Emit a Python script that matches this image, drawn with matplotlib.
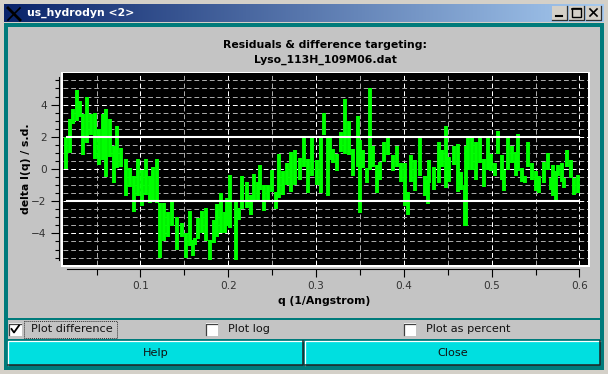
"""Recreate the us_hydrodyn residuals window as a 608x374 PNG."""

import matplotlib

matplotlib.use("Agg")
import matplotlib.patches as mpatches
import matplotlib.pyplot as plt
import numpy as np

# residual trace, one column of the dense trace per entry (top and bottom of each swing)
q_vals = [
    .0153, .0198, .0236, .0274, .0312, .0350, .0396, .0441, .0479, .0525, .0570, .0608,
    .0654, .0700, .0738, .0783, .0837, .0882, .0928, .0973, .1019, .1065, .1110, .1148,
    .1194, .1224, .1270, .1315, .1361, .1422, .1475, .1520, .1566, .1604,
    .1622, .1660, .1706, .1751, .1797, .1835, .1873, .1918, .1964, .1987, .2025, .2086,
    .2124, .2162, .2215, .2260, .2291, .2336, .2367, .2412, .2458, .2504, .2549, .2583,
    .2629, .2675, .2716, .2762, .2815, .2861, .2906, .2952, .3013, .3058, .3096, .3134,
    .3160, .3198, .3236, .3282, .3335, .3380, .3426, .3479, .3502, .3540, .3586, .3620,
    .3654, .3692, .3730, .3776, .3825, .3882, .3920, .3966, .4019, .4045, .4080, .4125,
    .4186, .4243, .4270, .4292, .4346, .4399, .4437, .4475, .4520, .4566, .4612, .4657,
    .4695,
    .4705, .4735, .4773, .4819, .4864, .4910, .4955, .4993, .5039, .5077, .5123, .5145,
    .5191, .5237, .5275, .5305, .5343, .5381, .5419, .5457, .5503, .5541, .5594, .5639,
    .5677, .5704, .5731, .5761, .5799, .5822, .5860, .5905, .5943, .5989,
]
delta_hi = [
    2.0, 3.1, 3.7, 4.9, 4.25, 3.4, 4.5, 3.4, 3.5, 2.5, 3.4, 3.7,
    3.1, 1.4, 2.65, 1.3, 0.65, 0.05, -0.45, 0.6, -0.05, 0.6, -0.45, 0.15,
    0.6, -2.1, -2.1, -2.7, -2.0, -2.95, -3.35, -4.0, -2.6, -4.4,
    -4.3, -3.05, -2.6, -2.4, -4.4, -3.15, -2.2, -1.5, -2.7, -1.8, -0.35, -2.0,
    -2.4, -0.45, -0.8, -1.6, -0.3, -0.8, 0.25, -1.0, -1.0, -0.05, -1.4, 0.95,
    -0.15, 0.35, 1.05, 1.15, 0.7, 1.9, 0.65, 2.0, 0.55, 2.0, 3.45, 2.0,
    2.0, 1.25, 0.95, 2.3, 4.35, 3.0, 1.25, 3.3, 1.8, 1.15, 0.05, 5.0,
    1.45, 0.25, 0.45, 1.7, 2.0, 0.85, 1.45, 0.35, 0.35, -1.4, 0.9, 0.55,
    2.0, -0.45, -0.7, 0.55, 0.15, 1.7, 1.15, 2.7, 0.75, 1.45, 1.55, -0.2,
    -1.0,
    1.45, 1.9, 2.0, 1.7, 1.9, 0.65, 1.9, 0.95, 0.35, 2.35, 0.85, -0.05,
    1.95, 1.45, 1.05, 2.15, 0.05, -0.45, 1.7, 0.35, -0.15, -0.45, 0.45, 1.0,
    -0.55, 0.25, -0.15, 0.25, 0.35, -0.55, 1.15, 0.55, -0.55, -0.35,
]
delta_lo = [
    0.0, 1.0, 2.8, 3.0, 3.2, 0.85, 1.6, 2.1, 0.65, 0.25, 0.55, -0.5,
    0.75, -0.85, 0.05, 0.1, -1.7, -1.1, -2.7, -1.7, -2.3, -1.6, -2.1, -1.9,
    -2.1, -5.55, -4.5, -4.2, -3.55, -5.0, -4.25, -5.5, -4.8, -5.4,
    -4.7, -4.35, -3.95, -4.5, -5.65, -4.6, -4.25, -3.95, -3.95, -3.55, -3.65, -5.65,
    -3.15, -2.5, -2.4, -2.85, -1.9, -1.9, -1.3, -2.6, -1.9, -1.45, -2.5, -1.8,
    -1.6, -1.0, -1.4, -1.0, -0.7, 0.15, -1.5, -0.45, -1.0, -1.5, 2.1, -1.65,
    0.55, 0.35, -0.15, 1.05, 0.95, 0.85, -0.45, 0.15, -2.75, 0.05, -0.9, -0.05,
    0.15, -1.5, -0.7, 0.45, 0.85, -0.15, 0.15, -0.8, -2.3, -2.85, -0.8, -1.35,
    -0.45, -1.7, -2.2, -0.9, -1.3, -0.9, 0.15, -1.2, -0.8, 0.25, -1.4, -1.3,
    -3.55,
    -3.55, -0.05, -0.05, -0.7, 0.35, -1.1, -0.05, -0.15, -0.45, 0.95, -0.7, -1.35,
    -0.05, 0.35, -0.45, -0.15, -0.8, -0.9, 0.15, -0.7, -1.35, -1.5, -0.9, -0.05,
    -1.3, -1.7, -1.9, -0.45, -0.8, -1.2, 0.15, -0.55, -1.6, -1.5,
]
limit_levels = [2, -2]
limit_span = [0.016, 0.6]
x_ticks = [0.1, 0.2, 0.3, 0.4, 0.5, 0.6]
x_minor = [0.05, 0.15, 0.25, 0.35, 0.45, 0.55]
y_ticks = [-4, -2, 0, 2, 4]
y_minor = [-5.5, -5, -4.5, -3.5, -3, -2.5, -1.5, -1, -0.5, 0.5, 1, 1.5, 2.5, 3, 3.5, 4.5, 5, 5.5]

W, H = 608, 374
GREY = "#c4c4c4"
TEAL = "#007b7b"
CYAN = "#00dfe0"
FONT = 7.85


def rect(bg, x0, y0, x1, y1, color, **kw):
    bg.add_patch(mpatches.Rectangle((x0, y0), x1 - x0, y1 - y0, facecolor=color, edgecolor="none", **kw))


def checkbox(bg, x, y, checked=False):
    rect(bg, x, y, x + 12.5, y + 12.5, "white")
    bg.plot([x, x, x + 11.5], [y + 11.5, y + 0.5, y + 0.5], color="#404040", lw=0.9)
    if checked:
        bg.plot([x + 2.5, x + 5, x + 10], [y + 6, y + 9.5, y + 2.5], color="black", lw=1.3)


def button(bg, x0, y0, x1, y1, label):
    rect(bg, x0, y0, x1, y1, CYAN)
    bg.plot([x0, x0, x1], [y1, y0, y0], color="white", lw=0.9)
    bg.plot([x0, x1, x1], [y1, y1, y0], color="#202020", lw=1.1)
    bg.text((x0 + x1) / 2, (y0 + y1) / 2 + 0.5, label, ha="center", va="center", fontsize=8.1, color="#111111")


def draw_window(bg):
    bg.set_xlim(0, W)
    bg.set_ylim(H, 0)
    bg.axis("off")
    rect(bg, 0, 0, W, H, "#d4d0c8")
    rect(bg, 4, 23, 604, 370, TEAL)
    rect(bg, 8, 27, 600, 318, GREY)
    rect(bg, 8, 320, 600, 339, GREY)
    # title bar
    grad = np.linspace(0, 1, 256).reshape(1, -1)
    left, right = np.array([0x0a, 0x24, 0x6a]) / 255, np.array([0xa6, 0xca, 0xf0]) / 255
    img = left[None, None, :] + grad[..., None] * (right - left)[None, None, :]
    bg.imshow(img, extent=(4, 604, 22, 4), aspect="auto", zorder=1)
    bg.set_xlim(0, W)
    bg.set_ylim(H, 0)
    bg.text(27, 12.5, "us_hydrodyn <2>", color="white", fontweight="bold", fontsize=7.85, va="center", zorder=3)
    bg.plot([8, 20], [8, 20], color="black", lw=2, zorder=3)
    bg.plot([8, 20], [20, 8], color="black", lw=1.2, zorder=3)
    for x0, glyph in ((552, "min"), (569, "max"), (586, "close")):
        rect(bg, x0, 6, x0 + 15, 19.5, "#d4d0c8", zorder=3)
        bg.plot([x0, x0 + 15, x0 + 15], [19.5, 19.5, 6], color="#303030", lw=0.9, zorder=4)
        if glyph == "min":
            bg.plot([x0 + 4, x0 + 10], [16, 16], color="black", lw=1.5, zorder=4)
        elif glyph == "max":
            bg.add_patch(mpatches.Rectangle((x0 + 3, 8), 9, 9, fill=False, edgecolor="black", lw=1, zorder=4))
            bg.plot([x0 + 3, x0 + 12], [8.5, 8.5], color="black", lw=1.2, zorder=4)
        else:
            bg.plot([x0 + 4, x0 + 11], [9, 16], color="black", lw=1.2, zorder=4)
            bg.plot([x0 + 4, x0 + 11], [16, 9], color="black", lw=1.2, zorder=4)
    # plot frame, black plot area sits on top of it
    rect(bg, 61, 71.5, 590, 267, "white")
    # titles
    bg.text(325, 44.5, "Residuals & difference targeting:", ha="center", va="center", fontweight="bold", fontsize=FONT)
    bg.text(325, 59.5, "Lyso_113H_109M06.dat", ha="center", va="center", fontweight="bold", fontsize=FONT)
    bg.text(324, 301.5, "q (1/Angstrom)", ha="center", va="center", fontweight="bold", fontsize=FONT)
    bg.text(26.5, 169, "delta I(q) / s.d.", ha="center", va="center", rotation=90, fontweight="bold", fontsize=FONT)
    # options row
    checkbox(bg, 9, 323, checked=True)
    bg.add_patch(mpatches.Rectangle((23.5, 321), 93, 16.5, fill=False, edgecolor="#303030", lw=0.7, linestyle=(0, (1, 1))))
    bg.text(31, 329.5, "Plot difference", va="center", fontsize=8.1, color="#111111")
    checkbox(bg, 205.5, 323)
    bg.text(228, 329.5, "Plot log", va="center", fontsize=8.1, color="#111111")
    checkbox(bg, 403.5, 323)
    bg.text(426.5, 329.5, "Plot as percent", va="center", fontsize=8.1, color="#111111")
    button(bg, 8, 341, 302.5, 365, "Help")
    button(bg, 305, 341, 599.5, 365, "Close")


def draw_plot(ax):
    ax.set_facecolor("black")
    ax.set_xlim(0.0118, 0.6098)
    ax.set_ylim(-5.96, 5.96)
    ax.set_xticks(x_ticks)
    ax.set_xticks(x_minor, minor=True)
    ax.set_yticks(y_ticks)
    ax.set_yticks(y_minor, minor=True)
    ax.set_xticklabels([str(t) for t in x_ticks])
    ax.grid(which="major", color="white", lw=0.72, linestyle=(0, (4.8, 2.9)), zorder=1)
    ax.grid(which="minor", color="#a8a8a8", lw=0.72, linestyle=(0, (4.8, 2.9)), zorder=1)
    ax.set_axisbelow(True)

    # the dense trace reads as solid columns at this size
    ax.vlines(q_vals, delta_lo, delta_hi, color="#00ff00", lw=2.8, zorder=3)
    for level in limit_levels:
        ax.plot(limit_span, [level, level], color="white", lw=1.5, zorder=4)

    for side in ("top", "right"):
        ax.spines[side].set_visible(False)
    ax.spines["left"].set_position(("outward", 3.2))
    ax.spines["bottom"].set_position(("outward", 3.1))
    ax.spines["left"].set_bounds(-5.65, 5.7)
    ax.spines["bottom"].set_bounds(limit_span)
    ax.tick_params(axis="both", which="major", labelsize=7.6, labelcolor="#333333", length=5.5, width=0.8, pad=3)
    ax.tick_params(axis="y", which="minor", length=2.8, width=0.8)
    ax.tick_params(axis="x", which="minor", length=4, width=0.8)


def main():
    fig = plt.figure(figsize=(W / 100, H / 100), dpi=100)
    bg = fig.add_axes([0, 0, 1, 1])
    draw_window(bg)
    # black area spans x 63-588, y 73-265 in window pixels
    ax = fig.add_axes([63 / W, 1 - 265 / H, 525 / W, 192 / H])
    draw_plot(ax)
    fig.savefig("out.png", dpi=100)


if __name__ == "__main__":
    main()
